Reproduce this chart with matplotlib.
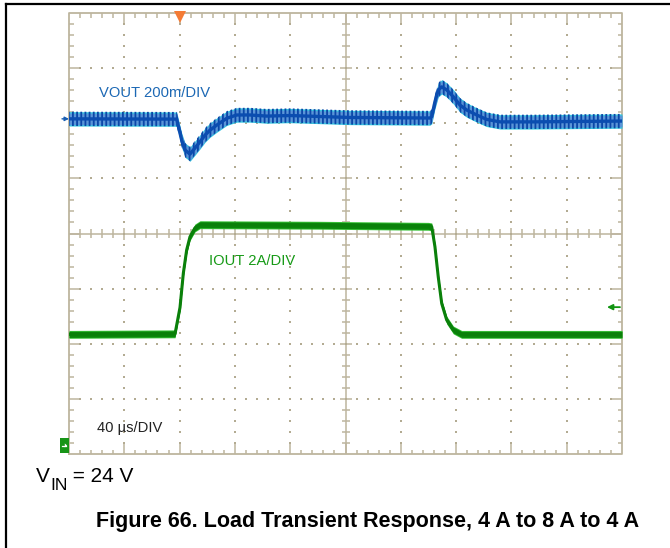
import matplotlib
matplotlib.use('Agg')
import matplotlib.pyplot as plt
import numpy as np
from matplotlib.patches import Rectangle, Polygon
from matplotlib.collections import LineCollection

plt.rcParams['font.family'] = ['Liberation Sans', 'DejaVu Sans']
plt.rcParams['hatch.linewidth'] = 1.3

# ---------------- data (read from the scope capture) ----------------
# time in microseconds (40 us/DIV, 10 DIV)
vout_t_us = [0, 77.9, 81.5, 83.9, 87.5, 91.1, 94.8, 98.4, 102.0, 106.8, 114.1,
             121.3, 130.9, 143.0, 159.8, 203.2, 261.1, 262.4, 264.7, 267.1,
             269.6, 273.2, 278.0, 282.8, 287.7, 294.9, 302.1, 311.8, 335.6, 400]
# VOUT deviation from its nominal level, mV (200 mV/DIV)
vout_mV = [0, -1, -77, -113, -128, -106, -83, -59, -41, -23, 2,
           14, 14, 10, 12, 5, 3, 8, 62, 105,
           116, 105, 80, 50, 32, 14, -2, -11, -11, -8]
vout_ripple_mV = 26          # half-width of the switching ripple band

iout_t_us = [0, 76.7, 80.3, 82.7, 85.1, 87.5, 91.1, 94.8, 180, 260,
             262.4, 264.7, 267.1, 269.6, 273.2, 278.0, 284.0, 400]
# IOUT in A (2 A/DIV)
iout_A = [4.0, 4.02, 4.98, 6.22, 7.06, 7.54, 7.86, 7.98, 7.96, 7.92,
          7.90, 7.18, 6.08, 5.12, 4.52, 4.16, 4.0, 4.0]
iout_noise_A = 0.11

# scope settings
t_per_div = 40.0
v_per_div = 200.0
i_per_div = 2.0
vout_pos_div = 6.08          # screen position of VOUT nominal level
iout_zero_div = 0.17         # screen position of 0 A
iout_marker_div = 2.664      # channel-2 reference arrow (right side)
trigger_t_us = 80.0

# ---------------- figure ----------------
W, H = 670, 548
fig = plt.figure(figsize=(W / 100, H / 100), dpi=100)
fig.patch.set_facecolor('white')

# outer black frame (top and left)
fig.add_artist(plt.Line2D([6 / W, 1], [1 - 4 / H, 1 - 4 / H], color='black', lw=1.6))
fig.add_artist(plt.Line2D([6 / W, 6 / W], [0, 1 - 4 / H], color='black', lw=1.6))

L, R, T, B = 69, 622, 13, 454
ax = fig.add_axes([L / W, 1 - B / H, (R - L) / W, (B - T) / H])
ax.set_xlim(0, 10)
ax.set_ylim(0, 8)
ax.axis('off')
sx = 10 / (R - L)
sy = 8 / (B - T)

G = '#bdb59e'
# border
ax.plot([0, 10, 10, 0, 0], [0, 0, 8, 8, 0], color=G, lw=1.3, clip_on=False, zorder=2)
# center cross
ax.plot([5, 5], [0, 8], color=G, lw=1.1, zorder=2)
ax.plot([0, 10], [4, 4], color=G, lw=1.1, zorder=2)

segs = []
xs = np.round(np.arange(0.2, 10.0, 0.2), 3)
ys = np.round(np.arange(0.2, 8.0, 0.2), 3)
for x in xs:
    major = abs(x - round(x)) < 1e-6
    lt = (11 if major else 4.5) * sy
    segs.append([(x, 8), (x, 8 - lt)])
    segs.append([(x, 0), (x, lt)])
    lc = (6 if major else 4) * sy
    segs.append([(x, 4 - lc), (x, 4 + lc)])
for y in ys:
    major = abs(y - round(y)) < 1e-6
    lt = (11 if major else 4.5) * sx
    segs.append([(0, y), (lt, y)])
    segs.append([(10, y), (10 - lt, y)])
    lc = (6 if major else 4) * sx
    segs.append([(5 - lc, y), (5 + lc, y)])
ax.add_collection(LineCollection(segs, colors=G, linewidths=1.1, zorder=2))

# dotted graticule
dx, dy = [], []
for k in range(1, 10):
    if k == 5:
        continue
    dx += [k] * len(ys)
    dy += list(ys)
for k in range(1, 8):
    if k == 4:
        continue
    dx += list(xs)
    dy += [k] * len(xs)
ax.scatter(dx, dy, s=1.4, color='#b3ab92', marker='s', linewidths=0, zorder=2)

# ---------------- traces ----------------
vx = np.array(vout_t_us) / t_per_div
vy = vout_pos_div + np.array(vout_mV) / v_per_div
vr = vout_ripple_mV / v_per_div
ax.fill_between(vx, vy - vr, vy + vr, color='#35c3df', lw=0, zorder=3)
ax.fill_between(vx, vy - vr * 0.8, vy + vr * 0.8, color='#5b95d8', lw=0, zorder=3)
ax.fill_between(vx, vy - vr, vy + vr, facecolor='none', edgecolor='#0a47a8',
                hatch='||||', lw=0, zorder=4)
ax.plot(vx, vy, color='#0b4db0', lw=2.4, zorder=5, solid_joinstyle='round')

ix = np.array(iout_t_us) / t_per_div
iy = iout_zero_div + np.array(iout_A) / i_per_div
ir = iout_noise_A / i_per_div
ax.fill_between(ix, iy - ir * 1.3, iy + ir * 1.3, color='#3cc43c', lw=0, zorder=3)
ax.fill_between(ix, iy - ir, iy + ir, color='#0b870b', lw=0, zorder=4)
ax.plot(ix, iy, color='#0a800a', lw=2.2, zorder=5, solid_joinstyle='round')

# ---------------- markers ----------------
ax.plot([trigger_t_us / t_per_div], [8 - 3.5 * sy], marker='v', markersize=8,
        color='#f47b35', markeredgewidth=0, clip_on=False, zorder=6)
ax.annotate('', xy=(0.0, vout_pos_div), xytext=(-7 * sx, vout_pos_div),
            arrowprops=dict(arrowstyle='-|>', color='#1a5fb4', lw=1.0, mutation_scale=6,
                            shrinkA=0, shrinkB=0),
            annotation_clip=False, zorder=6)
ax.annotate('', xy=(10 - 15 * sx, iout_marker_div), xytext=(10 - 2 * sx, iout_marker_div),
            arrowprops=dict(arrowstyle='-|>', color='#129412', lw=1.3, mutation_scale=8,
                            shrinkA=0, shrinkB=0),
            annotation_clip=False, zorder=6)
ax.add_patch(Rectangle((-9.5 * sx, 1 * sy), 9.5 * sx, 15 * sy, facecolor='#179417',
                       edgecolor='none', clip_on=False, zorder=6))
ax.plot([-7.5 * sx, -3.5 * sx], [8.5 * sy, 8.5 * sy], color='white', lw=0.9,
        clip_on=False, zorder=7)
ax.add_patch(Polygon([(-4.2 * sx, 6.5 * sy), (-4.2 * sx, 10.5 * sy), (-1.8 * sx, 8.5 * sy)],
                     closed=True, facecolor='white', edgecolor='none', clip_on=False, zorder=7))

# ---------------- labels ----------------
ax.text(0.542, 6.48, 'VOUT 200m/DIV', color='#1c68b4', fontsize=10.6,
        va='baseline', ha='left', zorder=7)
ax.text(2.532, 3.427, 'IOUT 2A/DIV', color='#169a16', fontsize=10.6,
        va='baseline', ha='left', zorder=7)
ax.text(0.506, 0.396, '40 \u00b5s/DIV', color='#222222', fontsize=10.6,
        va='baseline', ha='left', zorder=7)

renderer = fig.canvas.get_renderer()
t1 = fig.text(36 / W, 1 - 481.7 / H, 'V', fontsize=15, va='baseline', ha='left')
bb = t1.get_window_extent(renderer)
t2 = fig.text(bb.x1 / W, 1 - 490 / H, 'IN', fontsize=12.5, va='baseline', ha='left')
bb2 = t2.get_window_extent(renderer)
fig.text(bb2.x1 / W, 1 - 481.7 / H, ' = 24 V', fontsize=15, va='baseline', ha='left')

fig.text(96 / W, 1 - 526.7 / H, 'Figure 66. Load Transient Response, 4 A to 8 A to 4 A',
         fontsize=15.5, fontweight='bold', va='baseline', ha='left')

fig.savefig('out.png', dpi=100, facecolor='white')
